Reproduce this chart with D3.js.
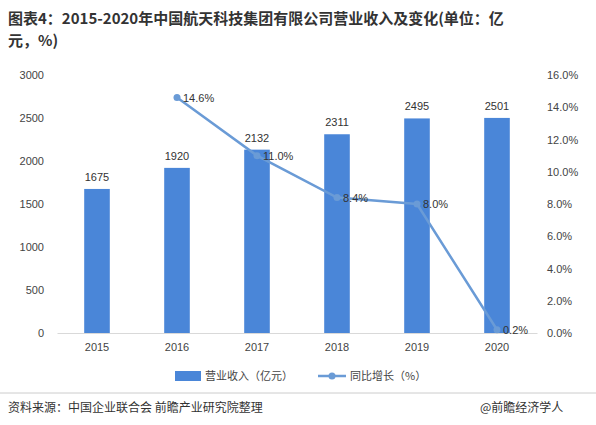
<!DOCTYPE html>
<html><head><meta charset="utf-8">
<script src="https://cdn.jsdelivr.net/npm/d3@7/dist/d3.min.js"></script>
<style>body{margin:0;background:#fff;font-family:"Noto Sans CJK SC","Noto Sans",sans-serif;}</style>
</head><body><svg id="c" width="596" height="425"></svg>
<script>
const years=["2015","2016","2017","2018","2019","2020"];
const revenue=[1675,1920,2132,2311,2495,2501];
const growth=[null,14.6,11.0,8.4,8.0,0.2];
const leftTicks=[0,500,1000,1500,2000,2500,3000];
const rightTicks=[0,2,4,6,8,10,12,14,16];

const svg=d3.select("#c");
const fam='"Noto Sans CJK SC",sans-serif';
svg.append("text").attr("x",8).attr("y",24).attr("font-size",15).attr("font-weight","bold").attr("fill","#333").attr("font-family",fam)
 .text("图表4：2015-2020年中国航天科技集团有限公司营业收入及变化(单位：亿");
svg.append("text").attr("x",8).attr("y",46).attr("font-size",15).attr("font-weight","bold").attr("fill","#333").attr("font-family",fam)
 .text("元，%)");

const x=d3.scaleBand().domain(years).range([57,537]).paddingInner(0.68).paddingOuter(0.34);
const y=d3.scaleLinear().domain([0,3000]).range([333,75]);
const y2=d3.scaleLinear().domain([0,16]).range([333,75]);

const ax=svg.append("g").attr("transform","translate(0,333)").call(d3.axisBottom(x).tickSize(0).tickPadding(10));
ax.select(".domain").attr("stroke","#d9d9d9");
const ay=svg.append("g").attr("transform","translate(48,0)").call(d3.axisLeft(y).tickValues(leftTicks).tickSize(0).tickPadding(4).tickFormat(d=>String(d)));
ay.select(".domain").remove();
const ay2=svg.append("g").attr("transform","translate(545,0)").call(d3.axisRight(y2).tickValues(rightTicks).tickSize(0).tickPadding(2).tickFormat(d=>d.toFixed(1)+"%"));
ay2.select(".domain").remove();
svg.selectAll(".tick text").attr("font-size",11).attr("fill","#444").attr("font-family","Arial,'Liberation Sans',sans-serif");

const barC="#4a86d8", lineC="#6a9bd6";
svg.selectAll("rect.b").data(revenue).join("rect").attr("class","b")
 .attr("x",(d,i)=>x(years[i])).attr("width",x.bandwidth()).attr("y",d=>y(d)).attr("height",d=>333-y(d)).attr("fill",barC);
svg.selectAll("text.bl").data(revenue).join("text").attr("class","bl")
 .attr("x",(d,i)=>x(years[i])+x.bandwidth()/2).attr("y",d=>y(d)-8).attr("text-anchor","middle")
 .attr("font-size",11).attr("fill","#333").attr("font-family","Arial,sans-serif").text(d=>d);

const pts=growth.map((g,i)=>({g,i})).filter(p=>p.g!==null);
const cx=i=>x(years[i])+x.bandwidth()/2;
svg.append("path").datum(pts).attr("fill","none").attr("stroke",lineC).attr("stroke-width",2.5)
 .attr("d",d3.line().x(p=>cx(p.i)).y(p=>y2(p.g)));
svg.selectAll("circle.p").data(pts).join("circle").attr("class","p").attr("cx",p=>cx(p.i)).attr("cy",p=>y2(p.g)).attr("r",3.5).attr("fill",lineC);
svg.selectAll("text.pl").data(pts).join("text").attr("class","pl")
 .attr("x",p=>cx(p.i)+6).attr("y",p=>y2(p.g)+4).attr("font-size",11).attr("fill","#333").attr("font-family","Arial,sans-serif")
 .text(p=>p.g.toFixed(1)+"%");

svg.append("rect").attr("x",175).attr("y",371).attr("width",26).attr("height",10).attr("fill",barC);
svg.append("text").attr("x",205).attr("y",380).attr("font-size",11).attr("fill","#444").attr("font-family",fam).text("营业收入（亿元）");
svg.append("line").attr("x1",318).attr("x2",346).attr("y1",376).attr("y2",376).attr("stroke",lineC).attr("stroke-width",2.5);
svg.append("circle").attr("cx",332).attr("cy",376).attr("r",3.5).attr("fill",lineC);
svg.append("text").attr("x",350).attr("y",380).attr("font-size",11).attr("fill","#444").attr("font-family",fam).text("同比增长（%）");

svg.append("line").attr("x1",0).attr("x2",596).attr("y1",393).attr("y2",393).attr("stroke","#ccc");
svg.append("text").attr("x",8).attr("y",412).attr("font-size",12).attr("fill","#333").attr("font-family",fam).text("资料来源：中国企业联合会 前瞻产业研究院整理");
svg.append("text").attr("x",480).attr("y",412).attr("font-size",12).attr("fill","#333").attr("font-family",fam).text("@前瞻经济学人");
</script></body></html>
